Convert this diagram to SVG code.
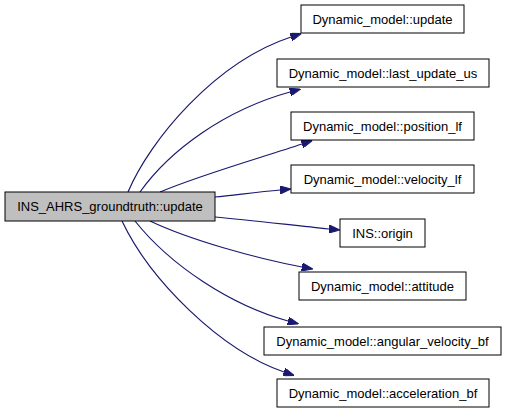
<svg xmlns="http://www.w3.org/2000/svg" width="507" height="413" viewBox="0 0 507 413">
<style>
.n rect{fill:#ffffff;stroke:#000000;stroke-width:1}
.n.main rect{fill:#bfbfbf}
.n text{font-family:"Liberation Sans",Arial,sans-serif;font-size:13px;fill:#000000;text-anchor:middle}
.e path{fill:none;stroke:#191970;stroke-width:1.2}
</style>
<defs>
<marker id="ah" viewBox="0 0 11 8" refX="0" refY="4" markerWidth="11" markerHeight="8" markerUnits="userSpaceOnUse" orient="auto">
<path d="M0,0 L11,4 L0,8 z" fill="#191970" stroke="#191970"/>
</marker>
</defs>
<rect width="507" height="413" fill="#ffffff"/>
<g id="edges" class="e">
<path d="M128,192 C150,140 215,62 291,37" marker-end="url(#ah)"/>
<path d="M140,192 C170,150 225,110 290,92" marker-end="url(#ah)"/>
<path d="M160,192 C200,175 260,158 302,144" marker-end="url(#ah)"/>
<path d="M215,197 C235,195 258,192 280,190" marker-end="url(#ah)"/>
<path d="M215,217 C250,220 290,225 329,229" marker-end="url(#ah)"/>
<path d="M150,221 C190,240 255,258 302,267" marker-end="url(#ah)"/>
<path d="M135,221 C170,265 230,305 288,321" marker-end="url(#ah)"/>
<path d="M122,221 C150,280 220,350 284,372" marker-end="url(#ah)"/>
</g>
<g id="node_main" class="n main"><rect x="5" y="192" width="210" height="29"/><text x="110" y="211">INS_AHRS_groundtruth::update</text></g>
<g id="node_update" class="n"><rect x="301" y="5" width="163" height="28"/><text x="382.5" y="24">Dynamic_model::update</text></g>
<g id="node_last_update_us" class="n"><rect x="277" y="59" width="212" height="28"/><text x="383" y="78">Dynamic_model::last_update_us</text></g>
<g id="node_position_lf" class="n"><rect x="291" y="112" width="183" height="28"/><text x="382.5" y="131">Dynamic_model::position_lf</text></g>
<g id="node_velocity_lf" class="n"><rect x="291" y="165" width="183" height="28"/><text x="382.5" y="184">Dynamic_model::velocity_lf</text></g>
<g id="node_origin" class="n"><rect x="340" y="219" width="85" height="28"/><text x="382.5" y="238">INS::origin</text></g>
<g id="node_attitude" class="n"><rect x="299" y="272" width="167" height="28"/><text x="382.5" y="291">Dynamic_model::attitude</text></g>
<g id="node_angular_velocity_bf" class="n"><rect x="264" y="327" width="237" height="28"/><text x="382.5" y="346">Dynamic_model::angular_velocity_bf</text></g>
<g id="node_acceleration_bf" class="n"><rect x="277" y="379" width="212" height="28"/><text x="383" y="398">Dynamic_model::acceleration_bf</text></g>
</svg>
